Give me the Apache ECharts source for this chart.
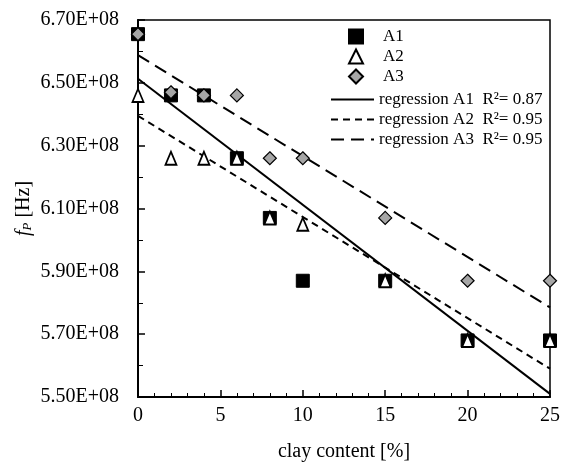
<!DOCTYPE html>
<html>
<head>
<meta charset="utf-8">
<script src="https://cdn.jsdelivr.net/npm/echarts@6/dist/echarts.min.js"></script>
<style>
  html, body { margin: 0; padding: 0; background: #fff; }
  #main { width: 563px; height: 468px; }
</style>
</head>
<body>
<div id="main"></div>
<script>
// clay content [%]
var clay = [0, 2, 4, 6, 8, 10, 15, 20, 25];
// fP [Hz]
var a1 = [6.655e8, 6.46e8, 6.46e8, 6.26e8, 6.07e8, 5.87e8, 5.87e8, 5.68e8, 5.68e8];
var a2 = [6.46e8, 6.26e8, 6.26e8, 6.26e8, 6.07e8, 6.05e8, 5.87e8, 5.68e8, 5.68e8];
var a3 = [6.655e8, 6.47e8, 6.46e8, 6.46e8, 6.26e8, 6.26e8, 6.07e8, 5.87e8, 5.87e8];
// regression line ends (x = 0 and x = 25)
var lineX = [0, 25];
var regA1 = [6.513e8, 5.51e8];
var regA2 = [6.395e8, 5.59e8];
var regA3 = [6.588e8, 5.785e8];
var r2 = ['0.87', '0.95', '0.95'];

var font = 'Liberation Serif';
var regNames = ['regression A1', 'regression A2', 'regression A3'];

function pts(xs, ys) {
    var out = [];
    for (var i = 0; i < xs.length; i++) out.push([xs[i], ys[i]]);
    return out;
}

var myChart = echarts.init(document.getElementById('main'));

myChart.setOption({
    backgroundColor: '#fff',
    animation: false,
    textStyle: { fontFamily: font, color: '#000' },
    grid: {
        left: 138, right: 11, top: 20, bottom: 71,
        show: true, borderColor: '#000', borderWidth: 1.5
    },
    legend: [
        {
            // markers
            orient: 'vertical',
            left: 348,
            top: 28,
            padding: 0,
            itemWidth: 14,
            itemHeight: 14,
            itemGap: 3,
            textStyle: {
                fontFamily: font, fontSize: 17, color: '#000',
                rich: { p: { width: 15 } }
            },
            formatter: '{p|}{name}',
            data: ['A1', 'A2', 'A3']
        },
        {
            // regression lines
            orient: 'vertical',
            left: 330,
            top: 91,
            padding: 0,
            itemWidth: 43,
            itemHeight: 14,
            itemGap: 3,
            textStyle: { fontFamily: font, fontSize: 17, color: '#000' },
            data: regNames.map(function (n) {
                return { name: n, itemStyle: { opacity: 0 } };
            }),
            formatter: function (name) {
                return name + '  R\u00b2= ' + r2[regNames.indexOf(name)];
            }
        }
    ],
    xAxis: {
        type: 'value',
        min: 0, max: 25, interval: 5,
        name: 'clay content [%]',
        nameLocation: 'middle',
        nameGap: 45,
        nameTextStyle: { fontFamily: font, fontSize: 20, color: '#000' },
        axisLine: { lineStyle: { color: '#000', width: 2 } },
        axisTick: { inside: true, length: 7, lineStyle: { color: '#000', width: 1.5 } },
        minorTick: { show: true, splitNumber: 5, length: 4, lineStyle: { color: '#000', width: 1 } },
        axisLabel: { fontFamily: font, fontSize: 20, color: '#000', margin: 9 },
        splitLine: { show: false }
    },
    yAxis: {
        type: 'value',
        min: 5.5e8, max: 6.7e8, interval: 2e7,
        name: '{i|f}{s|P} [Hz]',
        nameLocation: 'middle',
        nameGap: 104,
        nameMoveOverlap: false,
        nameRotate: 90,
        nameTextStyle: {
            fontFamily: font, fontSize: 20, color: '#000',
            rich: {
                i: { fontFamily: font, fontSize: 20, fontStyle: 'italic' },
                s: { fontFamily: font, fontSize: 13, fontStyle: 'italic', verticalAlign: 'bottom', padding: [8, 0, 0, 0] }
            }
        },
        axisLine: { lineStyle: { color: '#000', width: 2 } },
        axisTick: { inside: true, length: 7, lineStyle: { color: '#000', width: 1.5 } },
        minorTick: { show: true, splitNumber: 2, length: 5, lineStyle: { color: '#000', width: 1 } },
        axisLabel: {
            fontFamily: font, fontSize: 20, color: '#000', margin: 19,
            formatter: function (v) { return (v / 1e8).toFixed(2) + 'E+08'; }
        },
        splitLine: { show: false }
    },
    series: [
        {
            name: 'A1', type: 'scatter', symbol: 'rect', symbolSize: 13, clip: false, z: 3,
            itemStyle: { color: '#000', borderColor: '#000', borderWidth: 1, opacity: 1 },
            data: pts(clay, a1)
        },
        {
            name: 'A2', type: 'scatter', symbol: 'triangle', symbolSize: [11, 13], clip: false, z: 4,
            itemStyle: { color: '#fff', borderColor: '#000', borderWidth: 1.8, opacity: 1 },
            data: pts(clay, a2)
        },
        {
            name: 'A3', type: 'scatter', symbol: 'diamond', symbolSize: 13, clip: false, z: 5,
            itemStyle: { color: '#a6a6a6', borderColor: '#000', borderWidth: 1.2, opacity: 1 },
            data: pts(clay, a3)
        },
        {
            name: 'regression A1', type: 'line', symbol: 'none', z: 2,
            lineStyle: { color: '#000', width: 2, type: 'solid' },
            data: pts(lineX, regA1)
        },
        {
            name: 'regression A2', type: 'line', symbol: 'none', z: 2,
            lineStyle: { color: '#000', width: 2, type: [7, 5] },
            data: pts(lineX, regA2)
        },
        {
            name: 'regression A3', type: 'line', symbol: 'none', z: 2,
            lineStyle: { color: '#000', width: 2, type: [13, 7] },
            data: pts(lineX, regA3)
        }
    ]
});
</script>
</body>
</html>
